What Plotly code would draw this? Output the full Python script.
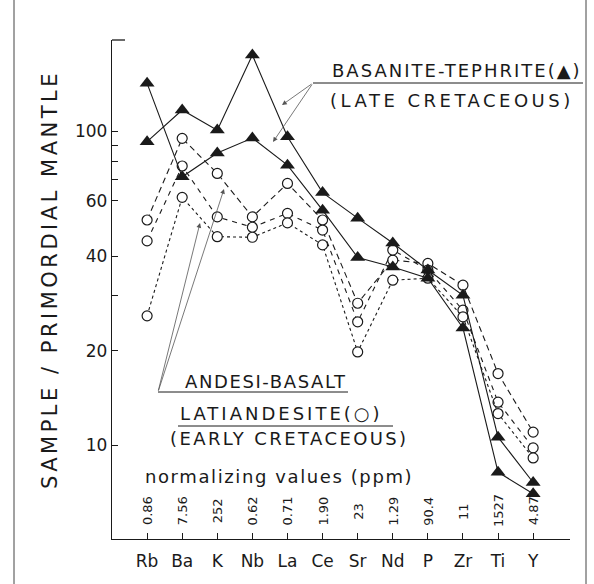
import plotly.graph_objects as go

elements = ["Rb", "Ba", "K", "Nb", "La", "Ce", "Sr", "Nd", "P", "Zr", "Ti", "Y"]
norm_values = ["0.86", "7.56", "252", "0.62", "0.71", "1.90", "23", "1.29", "90.4", "11", "1527", "4.87"]

# Basanite-tephrite (late Cretaceous), filled triangles
basanite_1 = [92.5, 116.7, 100.7, 174.6, 95.9, 63.7, 52.8, 44.0, 36.1, 30.0, 10.6, 7.6]
basanite_2 = [141.9, 71.5, 85.1, 95.0, 77.9, 56.0, 39.6, 36.9, 34.0, 23.6, 8.2, 7.0]

# Andesi-basalt / latiandesite (early Cretaceous), open circles
latiandesite_1 = [52.1, 94.8, 73.3, 53.3, 68.1, 52.1, 28.3, 38.8, 37.9, 32.3, 16.9, 11.0]
latiandesite_2 = [44.7, 77.4, 53.3, 49.4, 54.7, 48.4, 24.7, 41.8, 36.1, 26.9, 13.7, 9.8]
latiandesite_3 = [25.8, 61.5, 46.1, 45.9, 51.0, 43.4, 19.8, 33.5, 34.0, 25.6, 12.6, 9.1]

y_tickvals = [10, 20, 30, 40, 60, 70, 80, 90, 100]
y_ticktext = ["10", "20", "", "40", "60", "", "", "", "100"]

FONT = "DejaVu Sans"
INK = "#1a1a1a"

# plot area in pixels
W, H = 594, 584
L, R, T, B = 112, 570, 40, 539


def px(x):
    return (x - L) / (R - L)


def py(y):
    return (B - y) / (B - T)


def spaced(text, sp):
    return '<span style="letter-spacing:%spx">%s</span>' % (sp, text)


fig = go.Figure()

circle_dashes = ["6px,4px", "5px,5px", "3px,3px"]
for series, dash in zip([latiandesite_1, latiandesite_2, latiandesite_3], circle_dashes):
    fig.add_trace(go.Scatter(
        x=elements, y=series, mode="lines+markers",
        line=dict(color=INK, width=1.1, dash=dash),
        marker=dict(symbol="circle", size=10, color="white",
                    line=dict(color=INK, width=1.2)),
        showlegend=False, hoverinfo="skip"))

for series in [basanite_1, basanite_2]:
    fig.add_trace(go.Scatter(
        x=elements, y=series, mode="lines+markers",
        line=dict(color=INK, width=1.1),
        marker=dict(symbol="triangle-up", size=13, color=INK),
        showlegend=False, hoverinfo="skip"))

annotations = []
# normalizing values, rotated
for el, nv in zip(elements, norm_values):
    annotations.append(dict(x=el, y=py(511), xref="x", yref="paper", text=nv,
                            textangle=-90, showarrow=False,
                            xanchor="center", yanchor="middle",
                            font=dict(family=FONT, size=13, color=INK)))


def label(x, y, text, size=18, sp=0, **kw):
    d = dict(x=px(x), y=py(y), xref="paper", yref="paper", xanchor="left",
             yanchor="middle", text=spaced(text, sp) if sp else text,
             showarrow=False, font=dict(family=FONT, size=size, color=INK))
    d.update(kw)
    return d


annotations += [
    label(143, 476, "normalizing values (ppm)", 18, 1.6),
    dict(x=px(50), y=py(280), xref="paper", yref="paper",
         xanchor="center", yanchor="middle",
         text=spaced("SAMPLE / PRIMORDIAL MANTLE", 3.5), textangle=-90,
         showarrow=False, font=dict(family=FONT, size=21, color=INK)),
    label(330, 71, "BASANITE-TEPHRITE(▲)", 18, 2),
    label(328, 100, "(LATE CRETACEOUS)", 18, 3.5),
    label(183, 381, "ANDESI-BASALT", 18, 1.6),
    label(178, 413, "LATIANDESITE(○)", 18, 3.0),
    label(168, 438, "(EARLY CRETACEOUS)", 18, 2.4),
]

# leader arrows (head at point, tail offset in pixels)
for (hx, hy, tx, ty) in [(282, 105, 313, 83), (273, 142, 313, 83),
                         (200, 223, 158, 392), (224, 189, 158, 392)]:
    annotations.append(dict(x=px(hx), y=py(hy), xref="paper", yref="paper",
                            ax=tx - hx, ay=ty - hy, text="", showarrow=True,
                            arrowhead=2, arrowsize=1.2, arrowwidth=0.8,
                            arrowcolor="#555", standoff=0, startstandoff=0))

shapes = [
    # underlines
    dict(type="line", xref="paper", yref="paper", x0=px(313), x1=px(583), y0=py(83), y1=py(83),
         line=dict(color=INK, width=1)),
    dict(type="line", xref="paper", yref="paper", x0=px(158), x1=px(348), y0=py(392), y1=py(392),
         line=dict(color=INK, width=1)),
    dict(type="line", xref="paper", yref="paper", x0=px(178), x1=px(393), y0=py(426), y1=py(426),
         line=dict(color=INK, width=1)),
    # top bracket on y axis
    dict(type="line", xref="paper", yref="paper", x0=px(112), x1=px(125), y0=py(40), y1=py(40),
         line=dict(color=INK, width=1.3)),
    # page frame lines
    dict(type="line", xref="paper", yref="paper", x0=px(14), x1=px(14), y0=py(0), y1=py(584),
         line=dict(color="#444", width=1)),
    dict(type="line", xref="paper", yref="paper", x0=px(586), x1=px(586), y0=py(0), y1=py(584),
         line=dict(color="#444", width=1)),
]

fig.update_layout(
    width=W, height=H,
    margin=dict(l=L, r=W - R, t=T, b=H - B),
    paper_bgcolor="white", plot_bgcolor="white",
    showlegend=False,
    annotations=annotations, shapes=shapes,
    xaxis=dict(type="category", categoryorder="array", categoryarray=elements,
               range=[-1.0, 12.05], showgrid=False, zeroline=False,
               showline=True, linecolor=INK, linewidth=1.3,
               ticks="inside", ticklen=6, tickcolor=INK, ticklabelstandoff=6,
               tickfont=dict(family=FONT, size=17, color=INK)),
    yaxis=dict(type="log", range=[0.701, 2.290], showgrid=False, zeroline=False,
               showline=True, linecolor=INK, linewidth=1.3,
               tickvals=y_tickvals, ticktext=y_ticktext,
               ticks="inside", ticklen=6, tickcolor=INK,
               tickfont=dict(family=FONT, size=17, color=INK)),
)

fig.write_html("out.html", config={"displayModeBar": False},
               post_script="document.body.style.margin='0';document.body.style.overflow='hidden';")
